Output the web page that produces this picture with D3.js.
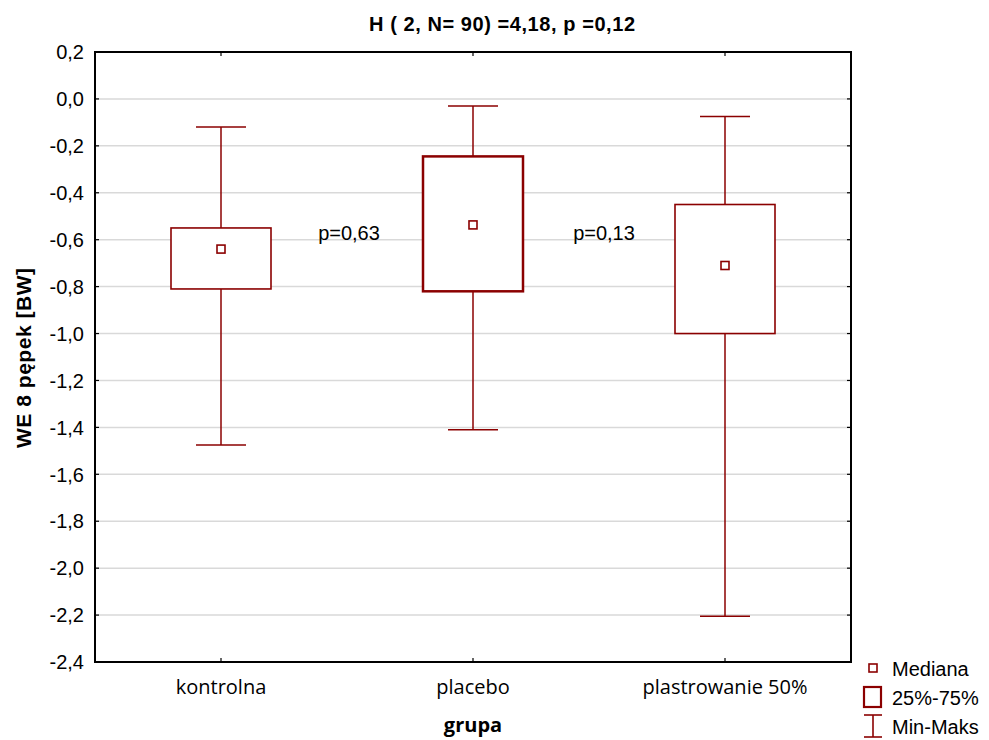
<!DOCTYPE html>
<html>
<head>
<meta charset="utf-8">
<style>
body { margin: 0; background: #fff; }
svg text { font-family: "Liberation Sans", Arial, sans-serif; }
</style>
</head>
<body>
<div id="chart"></div>
<script src="https://d3js.org/d3.v7.min.js"></script>
<script>

var groups = ["kontrolna", "placebo", "plastrowanie 50%"];
var mins    = [-1.475, -1.41, -2.205];
var q1s     = [-0.81, -0.82, -1.0];
var medians = [-0.64, -0.537, -0.71];
var q3s     = [-0.55, -0.245, -0.45];
var maxs    = [-0.12, -0.03, -0.075];
var yTicks  = [0.2, 0.0, -0.2, -0.4, -0.6, -0.8, -1.0, -1.2, -1.4, -1.6, -1.8, -2.0, -2.2, -2.4];
var pLabels = ["p=0,63", "p=0,13"];
var legendItems = ["Mediana", "25%-75%", "Min-Maks"];

var red = "#8b0000";

var svg = d3.select("#chart").append("svg")
    .attr("width", 989)
    .attr("height", 740),
    margin = {top: 52, right: 138, bottom: 78, left: 95},
    width = 989 - margin.left - margin.right,
    height = 740 - margin.top - margin.bottom,
    g = svg.append("g").attr("transform", "translate(" + margin.left + "," + margin.top + ")");

var x = d3.scaleBand().domain(groups).range([0, width]);
var y = d3.scaleLinear().domain([-2.4, 0.2]).range([height, 0]);

var fmt = function(d) { return d3.format(".1f")(d).replace(".", ",").replace("−", "-"); };

// grid
g.append("g").selectAll("line")
  .data(yTicks.slice(1, -1))
  .enter().append("line")
    .attr("x1", 0).attr("x2", width)
    .attr("y1", function(d) { return y(d); })
    .attr("y2", function(d) { return y(d); })
    .attr("stroke", "#d9d9d9")
    .attr("stroke-width", 1.5);

// frame ticks (inward)
var tk = g.append("g").attr("stroke", "#000").attr("stroke-width", 1.2);
yTicks.forEach(function(d) {
  tk.append("line").attr("x1", 0).attr("x2", 4).attr("y1", y(d)).attr("y2", y(d));
  tk.append("line").attr("x1", width - 4).attr("x2", width).attr("y1", y(d)).attr("y2", y(d));
});
groups.forEach(function(d) {
  var cx = x(d) + x.bandwidth() / 2;
  tk.append("line").attr("x1", cx).attr("x2", cx).attr("y1", 0).attr("y2", 4);
  tk.append("line").attr("x1", cx).attr("x2", cx).attr("y1", height - 4).attr("y2", height);
});

// y tick labels
g.append("g").selectAll("text")
  .data(yTicks)
  .enter().append("text")
    .attr("x", -11)
    .attr("y", function(d) { return y(d); })
    .attr("dy", "0.36em")
    .attr("text-anchor", "end")
    .attr("font-size", 20)
    .attr("fill", "#000")
    .text(fmt);

// boxes
var box = g.append("g").selectAll("g")
  .data(groups)
  .enter().append("g")
    .attr("transform", function(d) { return "translate(" + (x(d) + x.bandwidth() / 2) + ",0)"; });

box.append("line")
    .attr("x1", 0).attr("x2", 0)
    .attr("y1", function(d, i) { return y(maxs[i]); })
    .attr("y2", function(d, i) { return y(q3s[i]); })
    .attr("stroke", red).attr("stroke-width", 1.5);
box.append("line")
    .attr("x1", 0).attr("x2", 0)
    .attr("y1", function(d, i) { return y(q1s[i]); })
    .attr("y2", function(d, i) { return y(mins[i]); })
    .attr("stroke", red).attr("stroke-width", 1.5);
box.append("line")
    .attr("x1", -25).attr("x2", 25)
    .attr("y1", function(d, i) { return y(maxs[i]); })
    .attr("y2", function(d, i) { return y(maxs[i]); })
    .attr("stroke", red).attr("stroke-width", 1.5);
box.append("line")
    .attr("x1", -25).attr("x2", 25)
    .attr("y1", function(d, i) { return y(mins[i]); })
    .attr("y2", function(d, i) { return y(mins[i]); })
    .attr("stroke", red).attr("stroke-width", 1.5);
box.append("rect")
    .attr("x", -50).attr("width", 100)
    .attr("y", function(d, i) { return y(q3s[i]); })
    .attr("height", function(d, i) { return y(q1s[i]) - y(q3s[i]); })
    .attr("fill", "#fff")
    .attr("stroke", red)
    .attr("stroke-width", function(d, i) { return i == 1 ? 2.5 : 1.6; });
box.append("rect")
    .attr("x", -4).attr("width", 8)
    .attr("y", function(d, i) { return y(medians[i]) - 4; })
    .attr("height", 8)
    .attr("fill", "#fff")
    .attr("stroke", red).attr("stroke-width", 1.6);

// p-values between groups
g.append("g").selectAll("text")
  .data(pLabels)
  .enter().append("text")
    .attr("x", function(d, i) { return x(groups[i + 1]) + (i == 0 ? 2 : 5); })
    .attr("y", y(-0.6))
    .attr("text-anchor", "middle")
    .attr("font-size", 20)
    .text(function(d) { return d; });

// frame
g.append("rect")
    .attr("width", width).attr("height", height)
    .attr("fill", "none").attr("stroke", "#000").attr("stroke-width", 2);

// x labels
g.append("g").selectAll("text")
  .data(groups)
  .enter().append("text")
    .attr("x", function(d) { return x(d) + x.bandwidth() / 2; })
    .attr("y", height + 32)
    .attr("text-anchor", "middle")
    .attr("font-size", 20)
    .style("font-family", "'Open Sans', sans-serif")
    .text(function(d) { return d; });

// titles
svg.append("text")
    .attr("x", 502).attr("y", 31)
    .attr("text-anchor", "middle")
    .attr("font-size", 20).attr("font-weight", "bold")
    .attr("textLength", 266).attr("lengthAdjust", "spacing")
    .text("H ( 2, N= 90) =4,18, p =0,12");

svg.append("text")
    .attr("x", margin.left + width / 2).attr("y", 732)
    .attr("text-anchor", "middle")
    .attr("font-size", 20).attr("font-weight", "bold")
    .style("font-family", "'Open Sans', sans-serif")
    .text("grupa");

svg.append("text")
    .attr("transform", "translate(31,358) rotate(-90)")
    .attr("text-anchor", "middle")
    .attr("font-size", 21).attr("font-weight", "bold")
    .attr("textLength", 180).attr("lengthAdjust", "spacing")
    .text("WE 8 pępek [BW]");

// legend
var lg = svg.append("g").attr("transform", "translate(873,0)");
lg.append("rect").attr("x", -4).attr("y", 664).attr("width", 8).attr("height", 8)
    .attr("fill", "#fff").attr("stroke", red).attr("stroke-width", 1.6);
lg.append("rect").attr("x", -9).attr("y", 687).attr("width", 17).attr("height", 20)
    .attr("fill", "#fff").attr("stroke", red).attr("stroke-width", 2.2);
lg.append("line").attr("x1", 0).attr("x2", 0).attr("y1", 715).attr("y2", 737)
    .attr("stroke", red).attr("stroke-width", 1.6);
lg.append("line").attr("x1", -9).attr("x2", 9).attr("y1", 715).attr("y2", 715)
    .attr("stroke", red).attr("stroke-width", 1.6);
lg.append("line").attr("x1", -9).attr("x2", 9).attr("y1", 737).attr("y2", 737)
    .attr("stroke", red).attr("stroke-width", 1.6);
lg.selectAll("text.leg")
  .data(legendItems)
  .enter().append("text")
    .attr("class", "leg")
    .attr("x", 19)
    .attr("y", function(d, i) { return 669 + i * 29; })
    .attr("dy", "0.36em")
    .attr("font-size", 20)
    .text(function(d) { return d; });

</script>
</body>
</html>
